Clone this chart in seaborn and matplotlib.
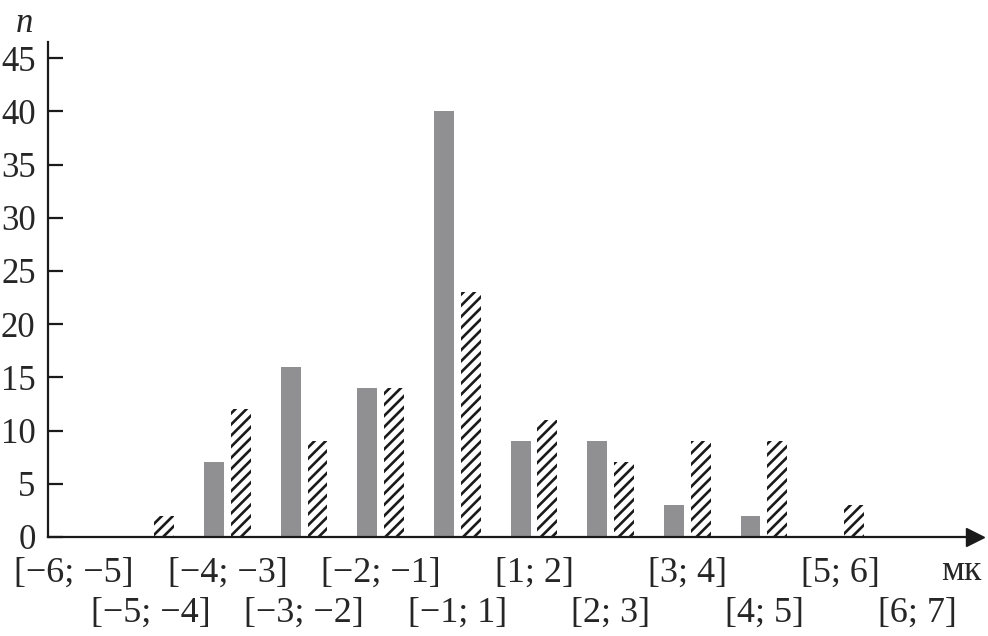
import numpy as np
import pandas as pd
import matplotlib
matplotlib.use("Agg")
import matplotlib.pyplot as plt
import seaborn as sns

# -------------------------------------------------------
# Data
# -------------------------------------------------------
intervals = ["[−6; −5]", "[−5; −4]", "[−4; −3]", "[−3; −2]", "[−2; −1]", "[−1; 1]",
             "[1; 2]", "[2; 3]", "[3; 4]", "[4; 5]", "[5; 6]", "[6; 7]"]
series_names = ["solid", "hatched"]
solid_counts = [0, 0, 7, 16, 14, 40, 9, 9, 3, 2, 0, 0]
hatched_counts = [0, 2, 12, 9, 14, 23, 11, 7, 9, 9, 3, 0]
y_ticks = list(range(0, 50, 5))

df = pd.DataFrame({
    "interval": intervals * 2,
    "series": [series_names[0]] * len(intervals) + [series_names[1]] * len(intervals),
    "n": solid_counts + hatched_counts,
})

# -------------------------------------------------------
# Style
# -------------------------------------------------------
sns.set_style("ticks")
plt.rcParams["font.family"] = ["Liberation Serif", "DejaVu Serif"]
plt.rcParams["hatch.linewidth"] = 1.9
plt.rcParams["hatch.color"] = "#1a1a1a"

fig = plt.figure(figsize=(9.88, 6.36), dpi=100)
ax = fig.add_axes([0.0486, 0.1557, 0.938, 0.778])

sns.barplot(data=df, x="interval", y="n", hue="series", order=intervals,
            hue_order=series_names, palette=["#909092", "white"],
            width=0.70, gap=0.26, legend=False, ax=ax, linewidth=0)

for bar in ax.containers[1]:
    bar.set_hatch("///")
    bar.set_edgecolor("#1a1a1a")
    bar.set_linewidth(0)

# axes limits and spines
ax.set_xlim(-0.34, 11.75)
ax.set_ylim(0, 46.5)
sns.despine(ax=ax)
for side in ["left", "bottom"]:
    ax.spines[side].set_linewidth(1.6)
    ax.spines[side].set_color("#1a1a1a")

# arrow head on x axis
ax.plot(1, 0, marker=">", color="#1a1a1a", markersize=13,
        transform=ax.get_yaxis_transform(), clip_on=False)

# y ticks
ax.set_yticks(y_ticks)
ax.set_yticklabels([str(v) for v in y_ticks])
ax.tick_params(axis="y", direction="in", length=11, width=1.6, pad=9,
               labelsize=25, color="#1a1a1a")

# x ticks: two staggered rows (even -> major, odd -> minor)
pos = np.arange(len(intervals))
ax.set_xticks(pos[::2])
ax.set_xticklabels(intervals[::2], fontsize=26)
ax.set_xticks(pos[1::2], minor=True)
ax.set_xticklabels(intervals[1::2], minor=True, fontsize=26)
ax.tick_params(axis="x", which="major", length=0, pad=14)
ax.tick_params(axis="x", which="minor", length=0, pad=43)

ax.set_xlabel("")
ax.set_ylabel("")

# axis names
ax.text(-0.025, 1.005, "n", transform=ax.transAxes, fontsize=25,
        style="italic", ha="center", va="bottom")
ax.text(0.985, -0.07, "мк", transform=ax.transAxes, fontsize=26,
        ha="center", va="center")

plt.savefig("out.png", dpi=100)
